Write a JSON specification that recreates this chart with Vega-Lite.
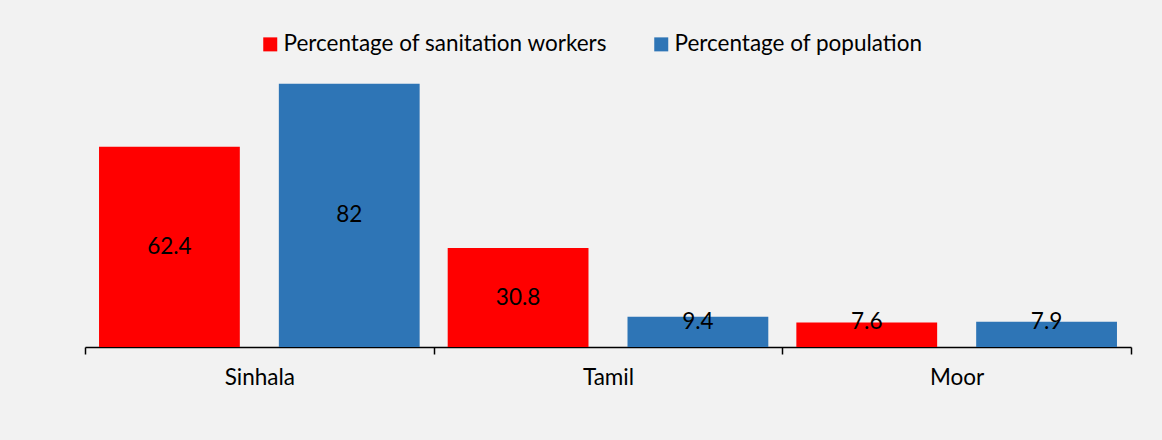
{
  "$schema": "https://vega.github.io/schema/vega-lite/v6.json",
  "autosize": {"type": "none"},
  "width": 1046,
  "height": 289,
  "padding": {"left": 85, "top": 58, "right": 31, "bottom": 93},
  "background": "#F2F2F2",
  "config": {
    "view": {"stroke": null},
    "font": "Lato",
    "legend": {"labelFont": "Lato", "labelFontSize": 22.5, "labelColor": "#000000", "labelLimit": 0},
    "axis": {"labelFont": "Lato"}
  },
  "data": {
    "values": [
      {"group": "Sinhala", "series": "Percentage of sanitation workers", "value": 62.4},
      {"group": "Sinhala", "series": "Percentage of population", "value": 82},
      {"group": "Tamil", "series": "Percentage of sanitation workers", "value": 30.8},
      {"group": "Tamil", "series": "Percentage of population", "value": 9.4},
      {"group": "Moor", "series": "Percentage of sanitation workers", "value": 7.6},
      {"group": "Moor", "series": "Percentage of population", "value": 7.9}
    ]
  },
  "encoding": {
    "x": {
      "field": "group", "type": "nominal", "sort": ["Sinhala", "Tamil", "Moor"],
      "scale": {"paddingInner": 0, "paddingOuter": 0},
      "axis": {
        "title": null, "labelAngle": 0, "tickBand": "extent",
        "domainColor": "#000000", "domainWidth": 1.5, "tickColor": "#000000", "tickWidth": 1.5, "tickSize": 7,
        "labelFontSize": 22.5, "labelColor": "#000000", "labelPadding": 12
      }
    },
    "xOffset": {
      "field": "series", "type": "nominal",
      "sort": ["Percentage of sanitation workers", "Percentage of population"],
      "scale": {"paddingInner": 0.217, "paddingOuter": 0.078}
    }
  },
  "layer": [
    {
      "mark": {"type": "bar"},
      "encoding": {
        "y": {"field": "value", "type": "quantitative", "scale": {"domain": [0, 90]}, "axis": null},
        "color": {
          "field": "series", "type": "nominal",
          "sort": ["Percentage of sanitation workers", "Percentage of population"],
          "scale": {"domain": ["Percentage of sanitation workers", "Percentage of population"], "range": ["#FF0000", "#2E75B6"]},
          "legend": {
            "title": null, "orient": "none", "direction": "horizontal",
            "legendX": 174, "legendY": -25,
            "symbolType": "square", "symbolSize": 196, "symbolStrokeWidth": 0,
            "columnPadding": 42, "labelOffset": 2
          }
        }
      }
    },
    {
      "transform": [{"calculate": "max(datum.value / 2, 7.9)", "as": "labelPos"}],
      "mark": {"type": "text", "fontSize": 22.5, "color": "#000000", "baseline": "middle", "font": "Lato"},
      "encoding": {
        "y": {"field": "labelPos", "type": "quantitative"},
        "text": {"field": "value", "type": "quantitative"}
      }
    }
  ]
}
